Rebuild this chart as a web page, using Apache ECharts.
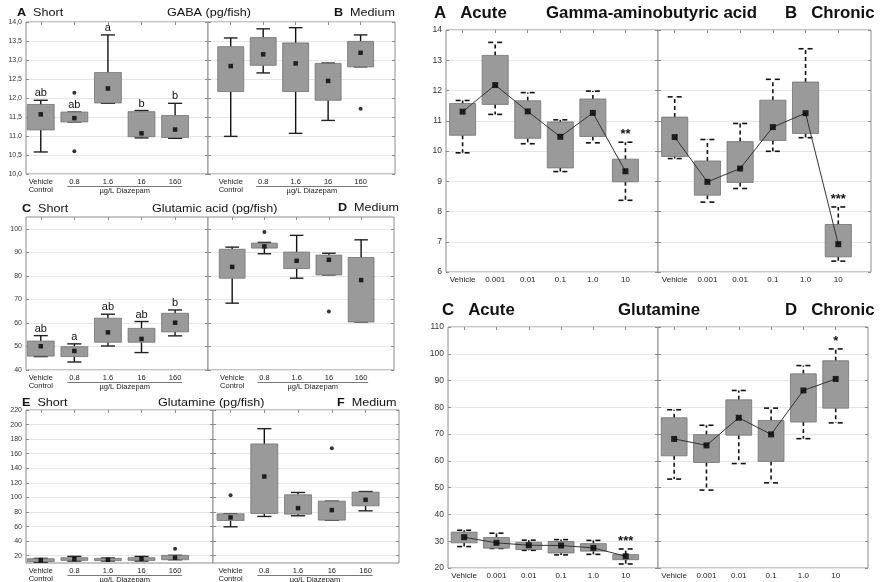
<!DOCTYPE html>
<html>
<head>
<meta charset="utf-8">
<script src="https://cdn.jsdelivr.net/npm/echarts@6/dist/echarts.min.js"></script>
<style>
  html, body { margin: 0; padding: 0; background: #fff; }
  #main { width: 880px; height: 582px; }
</style>
</head>
<body>
<div id="main"></div>
<script>
// dose labels
const longDoses = ['Vehicle\nControl', '0.8', '1.6', '16', '160'];
const expDoses = ['Vehicle', '0.001', '0.01', '0.1', '1.0', '10'];

// tick labels where the axis does not start on a tick
const gluTicks = [40, 50, 60, 70, 80, 90, 100];
const glnTicks = [20, 40, 60, 80, 100, 120, 140, 160, 180, 200, 220];

// every row: [whisker low, box low, point, box high, whisker high]
const gabaShort = [
  [10.58, 11.16, 11.57, 11.83, 11.94],
  [11.37, 11.37, 11.47, 11.63, 11.63],
  [11.86, 11.87, 12.25, 12.67, 13.66],
  [10.95, 10.98, 11.07, 11.64, 11.67],
  [10.94, 10.96, 11.17, 11.54, 11.86]
];
const gabaShortOut = [[1, 12.14], [1, 10.6]];
const gabaShortSig = ['ab', 'ab', 'a', 'b', 'b'];

const gabaMedium = [
  [10.99, 12.17, 12.84, 13.35, 13.58],
  [12.66, 12.86, 13.15, 13.59, 13.82],
  [11.07, 12.17, 12.91, 13.45, 13.85],
  [11.41, 11.94, 12.45, 12.91, 12.92],
  [12.82, 12.82, 13.19, 13.49, 13.66]
];
const gabaMediumOut = [[4, 11.72]];

const gluShort = [
  [45.7, 45.9, 50.1, 52.3, 54.6],
  [43.4, 45.7, 48.1, 49.9, 51.1],
  [50.2, 51.8, 56.0, 62.0, 63.7],
  [47.4, 51.8, 53.2, 57.7, 60.6],
  [54.5, 56.2, 60.1, 64.1, 65.5]
];
const gluShortSig = ['ab', 'a', 'ab', 'ab', 'b'];

const gluMedium = [
  [68.4, 79.0, 83.8, 91.3, 92.2],
  [89.4, 91.8, 92.5, 93.9, 94.2],
  [79.0, 83.1, 86.4, 90.1, 97.2],
  [80.4, 80.4, 86.8, 88.8, 89.6],
  [60.4, 60.4, 78.2, 87.8, 95.3]
];
const gluMediumOut = [[1, 98.6], [3, 64.8]];

const glnShort = [
  [11.0, 11.8, 14.1, 15.9, 16.3],
  [12.7, 13.6, 15.4, 17.3, 19.1],
  [12.8, 13.2, 14.5, 16.3, 16.8],
  [12.7, 13.6, 15.9, 17.3, 19.0],
  [14.5, 14.5, 17.3, 20.5, 20.5]
];
const glnShortOut = [[4, 29.6]];

const glnMedium = [
  [59.7, 68.4, 72.5, 77.5, 77.5],
  [73.9, 78.0, 128.7, 173.4, 194.4],
  [74.8, 77.1, 85.3, 103.6, 106.8],
  [68.9, 68.9, 82.6, 94.9, 94.9],
  [81.6, 88.5, 96.7, 107.2, 108.1]
];
const glnMediumOut = [[0, 103.1], [3, 167.5]];

const gabaAcute = [
  [9.94, 10.52, 11.30, 11.57, 11.67],
  [11.21, 11.54, 12.18, 13.16, 13.59],
  [10.24, 10.42, 11.31, 11.66, 11.93],
  [9.32, 9.44, 10.47, 10.96, 11.03],
  [10.27, 10.48, 11.26, 11.72, 11.98],
  [8.37, 8.98, 9.33, 9.73, 10.29]
];
const gabaAcuteSig = ['', '', '', '', '', '**'];

const gabaChronic = [
  [9.75, 9.82, 10.46, 11.12, 11.79],
  [8.31, 8.54, 8.98, 9.67, 10.38],
  [8.76, 8.96, 9.42, 10.31, 10.91],
  [9.99, 10.35, 10.79, 11.68, 12.37],
  [10.44, 10.58, 11.25, 12.28, 13.38],
  [6.36, 6.50, 6.92, 7.57, 8.15]
];
const gabaChronicSig = ['', '', '', '', '', '***'];

const glnAcute = [
  [28.0, 29.4, 31.5, 33.4, 34.1],
  [27.3, 27.4, 29.4, 31.4, 33.0],
  [26.6, 26.9, 28.5, 29.6, 30.4],
  [24.9, 25.6, 28.4, 29.9, 30.6],
  [25.1, 26.3, 27.5, 29.1, 30.3],
  [21.5, 23.1, 24.4, 25.0, 27.1]
];
const glnAcuteSig = ['', '', '', '', '', '***'];

const glnChronic = [
  [53.2, 61.9, 68.2, 76.1, 79.1],
  [49.1, 59.4, 65.8, 69.8, 73.3],
  [59.0, 69.6, 76.1, 82.8, 86.3],
  [51.8, 59.8, 69.9, 75.1, 79.7],
  [68.3, 74.5, 86.3, 92.5, 95.6],
  [74.2, 79.7, 90.6, 97.4, 101.8]
];
const glnChronicSig = ['', '', '', '', '', '*'];

const FONT = '"Liberation Sans", Arial, Helvetica, sans-serif';
const FRAME = '#8c8c8c';

// panel layout (pixels) -- kept apart from the data
const panels = [
  {
    kind: 'left', doses: longDoses, top: 22, bottom: 174,
    y: { min: 10, max: 14, interval: 0.5 }, fmt: v => v.toFixed(1).replace('.', ','),
    halves: [
      { x0: 26, x1: 208, min: -0.44, max: 4.98, box: gabaShort, out: gabaShortOut, sig: gabaShortSig },
      { x0: 208, x1: 395, min: -0.70, max: 5.06, box: gabaMedium, out: gabaMediumOut }
    ]
  },
  {
    kind: 'left', doses: longDoses, top: 217, bottom: 370,
    y: { min: 40, max: 105, ticks: gluTicks }, fmt: v => String(v),
    halves: [
      { x0: 26, x1: 208, min: -0.44, max: 4.98, box: gluShort, sig: gluShortSig },
      { x0: 208, x1: 394, min: -0.75, max: 5.02, box: gluMedium, out: gluMediumOut }
    ]
  },
  {
    kind: 'left', doses: longDoses, top: 410, bottom: 563,
    y: { min: 10, max: 220, ticks: glnTicks }, fmt: v => String(v),
    halves: [
      { x0: 26, x1: 213, min: -0.44, max: 5.13, box: glnShort, out: glnShortOut },
      { x0: 213, x1: 399, min: -0.52, max: 4.99, box: glnMedium, out: glnMediumOut }
    ]
  },
  {
    kind: 'right', doses: expDoses, top: 30, bottom: 272,
    y: { min: 6, max: 14, interval: 1 }, fmt: v => String(v),
    halves: [
      { x0: 446, x1: 658, min: -0.51, max: 6.0, box: gabaAcute, sig: gabaAcuteSig },
      { x0: 658, x1: 871, min: -0.51, max: 6.0, box: gabaChronic, sig: gabaChronicSig }
    ]
  },
  {
    kind: 'right', doses: expDoses, top: 327, bottom: 568,
    y: { min: 20, max: 110, interval: 10 }, fmt: v => String(v),
    halves: [
      { x0: 448, x1: 658, min: -0.5, max: 6.0, box: glnAcute, sig: glnAcuteSig },
      { x0: 658, x1: 868, min: -0.5, max: 6.0, box: glnChronic, sig: glnChronicSig }
    ]
  }
];

function renderBox(kind, sig) {
  return function (params, api) {
    const i = api.value(0);
    const unit = api.size([1, 0])[0];
    const lo = api.coord([i, api.value(1)]);
    const cx = lo[0];
    const yLo = lo[1];
    const yQ1 = api.coord([i, api.value(2)])[1];
    const yQ3 = api.coord([i, api.value(4)])[1];
    const yHi = api.coord([i, api.value(5)])[1];
    const bw = unit * 0.8;
    const dashed = kind === 'right';
    const wl = { stroke: '#111', lineWidth: dashed ? 1.6 : 1.4, lineDash: dashed ? [4, 3] : null };
    const kids = [
      { type: 'line', shape: { x1: cx, y1: yQ3, x2: cx, y2: yHi }, style: wl },
      { type: 'line', shape: { x1: cx, y1: yQ1, x2: cx, y2: yLo }, style: wl }
    ];
    [yHi, yLo].forEach(y => {
      if (dashed) {
        kids.push({ type: 'line', shape: { x1: cx - 7, y1: y, x2: cx - 2, y2: y }, style: { stroke: '#111', lineWidth: 1.6 } });
        kids.push({ type: 'line', shape: { x1: cx + 2, y1: y, x2: cx + 7, y2: y }, style: { stroke: '#111', lineWidth: 1.6 } });
      } else {
        const cw = unit * 0.21;
        kids.push({ type: 'line', shape: { x1: cx - cw, y1: y, x2: cx + cw, y2: y }, style: { stroke: '#222', lineWidth: 1.4 } });
      }
    });
    kids.push({
      type: 'rect',
      shape: { x: cx - bw / 2, y: yQ3, width: bw, height: yQ1 - yQ3 },
      style: { fill: '#9a9a9a', stroke: '#727272', lineWidth: 0.8 }
    });
    const s = sig && sig[params.dataIndex];
    if (s) {
      kids.push({
        type: 'text',
        style: {
          text: s, x: cx, y: dashed ? yHi - 1 : yHi - 1.5,
          align: 'center', verticalAlign: 'bottom',
          fontFamily: FONT, fontSize: dashed ? 13 : 11, fontWeight: dashed ? 'bold' : 'normal',
          fill: '#111'
        }
      });
    }
    return { type: 'group', children: kids };
  };
}

const grid = [], xAxis = [], yAxis = [], series = [], diazepam = [];

panels.forEach(p => {
  const small = p.kind === 'left';
  p.halves.forEach((h, k) => {
    const gi = grid.length;
    grid.push({
      left: h.x0, top: p.top, width: h.x1 - h.x0, height: p.bottom - p.top,
      show: true, borderColor: FRAME, borderWidth: 1, backgroundColor: '#fff',
      outerBoundsMode: 'none'
    });
    const idx = p.doses.map((d, i) => i);
    const xi = xAxis.length;
    xAxis.push({
      type: 'value', gridIndex: gi, position: 'bottom', min: h.min, max: h.max,
      axisLine: { show: false, onZero: false }, axisTick: { show: false }, splitLine: { show: false },
      axisLabel: {
        customValues: idx, formatter: v => p.doses[Math.round(v)],
        fontFamily: FONT, fontSize: small ? 7.5 : 8, lineHeight: 8, color: '#222', margin: 4
      }
    });
    xAxis.push({
      type: 'value', gridIndex: gi, position: 'top', min: h.min, max: h.max,
      axisLine: { show: false, onZero: false }, splitLine: { show: false }, axisLabel: { show: false },
      axisTick: { show: true, inside: true, length: 3, customValues: idx, lineStyle: { color: FRAME } }
    });
    const yBase = { min: p.y.min, max: p.y.max };
    if (p.y.interval) yBase.interval = p.y.interval;
    const yi = yAxis.length;
    yAxis.push(Object.assign({
      type: 'value', gridIndex: gi, position: 'left',
      axisLine: { show: false, onZero: false },
      axisTick: { show: true, inside: true, length: 3, customValues: p.y.ticks, lineStyle: { color: FRAME } },
      axisLabel: {
        show: k === 0, customValues: p.y.ticks, formatter: p.fmt,
        fontFamily: FONT, fontSize: small ? 7 : 8.5, color: '#333', margin: 4
      },
      splitLine: { show: true, lineStyle: { color: '#e6e6e6', width: 1 } }
    }, yBase));
    yAxis.push(Object.assign({
      type: 'value', gridIndex: gi, position: 'right',
      axisLine: { show: false, onZero: false }, axisLabel: { show: false }, splitLine: { show: false },
      axisTick: { show: true, inside: true, length: 3, customValues: p.y.ticks, lineStyle: { color: FRAME } }
    }, yBase));

    const pts = h.box.map((r, i) => [i, r[2]]);
    series.push({
      type: 'custom', xAxisIndex: xi, yAxisIndex: yi, z: 2, silent: true,
      renderItem: renderBox(p.kind, h.sig),
      data: h.box.map((r, i) => [i].concat(r)),
      encode: { x: 0, y: [1, 2, 3, 4, 5] }
    });
    if (!small) {
      series.push({
        type: 'line', xAxisIndex: xi, yAxisIndex: yi, z: 3, silent: true,
        data: pts, symbol: 'none', lineStyle: { color: '#333', width: 1 }
      });
    }
    series.push({
      type: 'scatter', xAxisIndex: xi, yAxisIndex: yi, z: 4, silent: true,
      data: pts, symbol: 'rect', symbolSize: small ? 4.5 : 6, itemStyle: { color: '#000' }
    });
    if (h.out) {
      series.push({
        type: 'scatter', xAxisIndex: xi, yAxisIndex: yi, z: 4, silent: true,
        data: h.out, symbol: 'circle', symbolSize: 4, itemStyle: { color: '#000' }
      });
    }
    if (small) diazepam.push({ xi: xi, yi: yi, from: 1, to: p.doses.length - 1, base: p.y.min });
  });
});

function title(text, x, y, size, bold, sx) {
  return {
    type: 'text', x: x, y: y, scaleX: sx || 1, silent: true,
    style: {
      text: text, fontFamily: FONT, fontSize: size, fontWeight: bold ? 'bold' : 'normal',
      fill: '#111', verticalAlign: 'middle',
      rich: { b: { fontWeight: 'bold', fontSize: size, fontFamily: FONT, fill: '#111' } }
    }
  };
}

const titles = [
  title('{b|A}  Short', 17, 13, 10.5, false, 1.2),
  title('GABA (pg/fish)', 167, 13, 10.5, false, 1.2),
  title('{b|B}  Medium', 334, 13, 10.5, false, 1.2),
  title('{b|C}  Short', 22, 209, 10.5, false, 1.2),
  title('Glutamic acid (pg/fish)', 152, 209, 10.5, false, 1.2),
  title('{b|D}  Medium', 338, 208, 10.5, false, 1.2),
  title('{b|E}  Short', 22, 403, 10.5, false, 1.2),
  title('Glutamine (pg/fish)', 158, 403, 10.5, false, 1.2),
  title('{b|F}  Medium', 337, 403, 10.5, false, 1.2),
  title('A   Acute', 434, 14, 16, true, 1.05),
  title('Gamma-aminobutyric acid', 546, 14, 16, true, 1.05),
  title('B   Chronic', 785, 14, 16, true, 1.05),
  title('C   Acute', 442, 311, 16, true, 1.05),
  title('Glutamine', 618, 311, 16, true, 1.05),
  title('D   Chronic', 785, 311, 16, true, 1.05)
];

const chart = echarts.init(document.getElementById('main'));
chart.setOption({
  animation: false,
  backgroundColor: '#fff',
  grid: grid,
  xAxis: xAxis,
  yAxis: yAxis,
  series: series,
  graphic: titles
});

// "µg/L Diazepam" bracket under the doses, placed through the axes
const extra = [];
diazepam.forEach(d => {
  const xa = chart.convertToPixel({ xAxisIndex: d.xi }, d.from);
  const xb = chart.convertToPixel({ xAxisIndex: d.xi }, d.to);
  const yb = chart.convertToPixel({ yAxisIndex: d.yi }, d.base);
  extra.push({
    type: 'line', silent: true,
    shape: { x1: xa - 7, y1: yb + 12.5, x2: xb + 7, y2: yb + 12.5 },
    style: { stroke: '#555', lineWidth: 0.8 }
  });
  extra.push({
    type: 'text', silent: true, x: (xa + xb) / 2, y: yb + 16.5,
    style: { text: 'µg/L Diazepam', fontFamily: FONT, fontSize: 7.5, fill: '#222', align: 'center', verticalAlign: 'middle' }
  });
});
chart.setOption({ graphic: titles.concat(extra) });
</script>
</body>
</html>
